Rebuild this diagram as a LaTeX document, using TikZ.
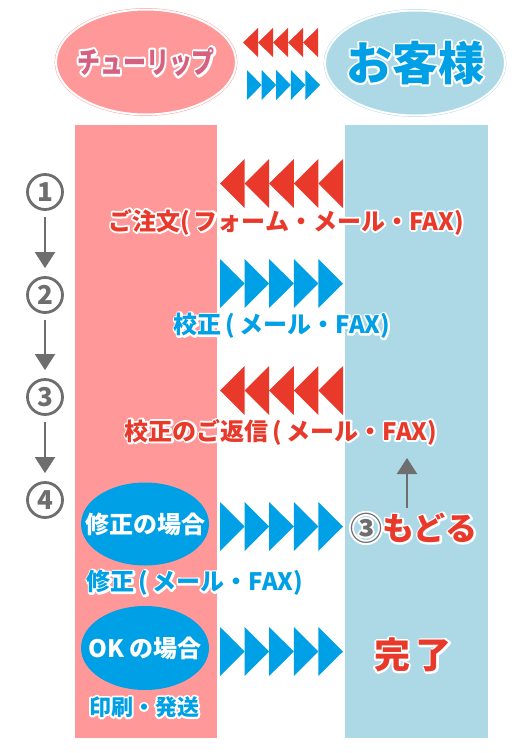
\documentclass[tikz,border=0pt]{standalone}
\usepackage{fontspec}
\setmainfont{Noto Sans CJK JP}
\usetikzlibrary{shapes.geometric,arrows.meta,positioning}
\definecolor{tulippink}{RGB}{255,153,153}
\definecolor{guestblue}{RGB}{173,216,230}
\definecolor{sendred}{RGB}{232,57,42}
\definecolor{sendblue}{RGB}{0,160,230}
\definecolor{stepgray}{RGB}{110,110,110}
\definecolor{tuliptext}{RGB}{214,96,128}
% white rim round a text
\newcommand{\haloed}[1]{\leavevmode\rlap{\special{x:gsave}\special{pdf:literal 1 Tr 3.8 w 1 J 1 j 1 1 1 RG}#1\special{x:grestore}}#1}
% five triangles in a row: x0, y centre, width, height, colour
\newcommand{\sendleft}[5]{%
  \foreach \i in {0,...,4}
    \fill[#5] ({#1+#3*\i},#2) -- ({#1+#3*(\i+1)},{#2-#4/2}) -- ({#1+#3*(\i+1)},{#2+#4/2}) -- cycle;}
\newcommand{\sendright}[5]{%
  \foreach \i in {0,...,4}
    \fill[#5] ({#1+#3*\i},{#2-#4/2}) -- ({#1+#3*(\i+1)},#2) -- ({#1+#3*\i},{#2+#4/2}) -- cycle;}
\begin{document}
\begin{tikzpicture}[x=1pt,y=-1pt,
    fsize/.style={font=\bfseries\fontsize{#1}{#1}\selectfont},
    redlabel/.style={fsize=24,text=sendred,inner sep=0pt},
    bluelabel/.style={fsize=24,text=sendblue,inner sep=0pt},
    headblob/.style={ellipse,draw=#1,fill=#1,double=white,double distance=2pt,minimum width=180pt,minimum height=105pt,inner sep=0pt},
    caseblob/.style={ellipse,fill=sendblue,minimum width=128pt,minimum height=83pt,inner sep=0pt},
    casetext/.style={text=white,fsize=24,inner sep=0pt},
    stepnum/.style={circle,draw=stepgray,line width=2.8pt,text=stepgray,fsize=26,minimum size=35pt,inner sep=0pt},
    steparrow/.style={stepgray,line width=2pt,-{Triangle[width=20pt,length=16pt]}}]
  \useasboundingbox (0,0) rectangle (527,753);
  % columns
  \fill[tulippink] (75,125) rectangle (217,738);
  \fill[guestblue] (345,125) rectangle (488,738);
  % header
  \node[headblob=tulippink] (tulip) at (146,62) {};
  \node[text=tuliptext,fsize=23] (tulipname) at (tulip.center) {\scalebox{1}[1.3]{\haloed{チューリップ}}};
  \node[headblob=guestblue] (guest) at (415,63) {};
  \node[text=sendblue,fsize=46] (guestname) at (guest.center) {\haloed{お客様}};
  \sendleft{243}{42.5}{15}{29}{sendred}
  \sendright{247}{85}{14.6}{30}{sendblue}
  % steps
  \node[stepnum] (n1) at (45,192) {1};
  \node[stepnum] (n2) at (45,295) {2};
  \node[stepnum] (n3) at (45,397) {3};
  \node[stepnum] (n4) at (45,500) {4};
  \draw[steparrow,shorten <=6pt,shorten >=8pt] (n1) -- (n2);
  \draw[steparrow,shorten <=6pt,shorten >=8pt] (n2) -- (n3);
  \draw[steparrow,shorten <=6pt,shorten >=8pt] (n3) -- (n4);
  % order
  \sendleft{220}{183.5}{24.6}{49}{sendred}
  \node[redlabel] (order) at (286,222) {\haloed{ご注文(\,フォーム・メール・FAX)}};
  % proof
  \sendright{220}{283.5}{24.6}{49}{sendblue}
  \node[bluelabel] (proof) at (282,326) {\haloed{校正\,(\,メール・FAX)}};
  % reply
  \sendleft{220}{390.5}{24.6}{49}{sendred}
  \node[redlabel] (reply) at (281,432) {\haloed{校正のご返信\,(\,メール・FAX)}};
  % fix
  \node[caseblob] (fix) at (145,524) {};
  \node[casetext] (fixname) at (fix.center) {修正の場合};
  \sendright{220}{526.5}{24.6}{49}{sendblue}
  \node[bluelabel] (fixsend) at (195,583) {\haloed{修正\,(\,メール・FAX)}};
  \node[fsize=32,text=stepgray,inner sep=0pt] (back3) at (366,528) {\haloed{③}};
  \node[fsize=32,text=sendred,inner sep=0pt,right=0pt of back3] (modoru) {\haloed{もどる}};
  \coordinate (ret) at (407,458);
  \draw[steparrow,shorten <=5pt] (modoru.north -| ret) -- (ret);
  % ok
  \node[caseblob,minimum height=84pt] (ok) at (145,648) {};
  \node[casetext] (okname) at (ok.center) {OK の場合};
  \sendright{220}{651.5}{24.6}{49}{sendblue}
  \node[bluelabel,fsize=22] (print) at (144,707) {\haloed{印刷・発送}};
  \node[fsize=36,text=sendred,inner sep=0pt] (done) at (413,655) {\haloed{完\kern6pt 了}};
\end{tikzpicture}
\end{document}
